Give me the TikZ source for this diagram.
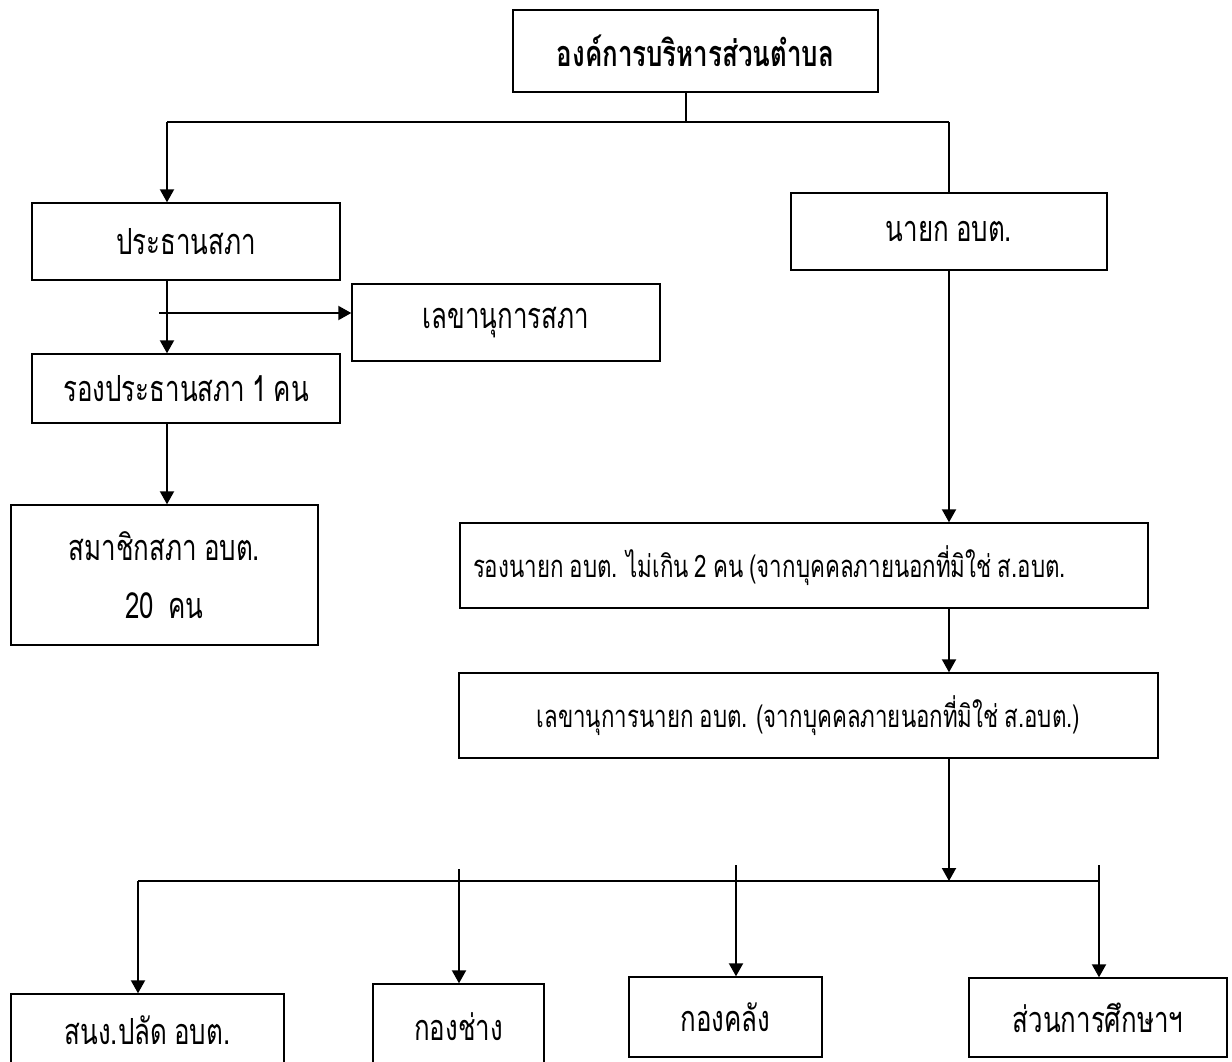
\documentclass[tikz,border=0pt]{standalone}
\usepackage{fontspec}
\newfontfamily\thaifont[Script=Thai,FakeStretch=0.72,WordSpace=0.8]{Loma}
\usetikzlibrary{arrows.meta}

\begin{document}
\begin{tikzpicture}[x=1pt, y=-1pt,
    every node/.style={font=\thaifont\fontsize{36}{42}\selectfont},
    unit/.style={draw, line width=1.4pt, inner sep=0pt},
    longtext/.style={font=\thaifont\fontsize{31}{36}\selectfont},
    bus/.style={line width=1.4pt},
    arr/.style={line width=2pt, -{Triangle[length=13pt,width=14pt]}},
  ]
  \useasboundingbox (0,0) rectangle (1232,1061);
  \clip (0,0) rectangle (1232,1061);

  % council side
  \node[unit, minimum width=365pt, minimum height=82pt,
        font=\thaifont\bfseries\fontsize{36}{42}\selectfont]
                                  (aobt)        at (695.5,51)   {องค์การบริหารส่วนตำบล};
  \node[unit, minimum width=308pt, minimum height=77pt]  (prathan)     at (186,241.5)  {ประธานสภา};
  \node[unit, minimum width=308pt, minimum height=77pt]  (lekhasapha)  at (506,322.5)  {เลขานุการสภา};
  \node[unit, minimum width=308pt, minimum height=69pt]  (rongprathan) at (186,388.5)  {รองประธานสภา 1 คน};
  \node[unit, minimum width=307pt, minimum height=140pt, align=center]
                                  (samachik)    at (164.5,575)  {สมาชิกสภา อบต.\\[16pt]20\ \ คน};

  % executive side
  \node[unit, minimum width=316pt, minimum height=77pt]  (nayok)       at (949,231.5)  {นายก อบต.};
  \node[unit, longtext, minimum width=688pt, minimum height=85pt, inner xsep=13pt]
                                  (rongnayok)   at (804,565.5)
        {\makebox[662pt][l]{รองนายก อบต. ไม่เกิน 2 คน (จากบุคคลภายนอกที่มิใช่ ส.อบต.}};
  \node[unit, longtext, minimum width=699pt, minimum height=85pt]
                                  (lekhanayok)  at (808.5,715.5) {เลขานุการนายก อบต. (จากบุคคลภายนอกที่มิใช่ ส.อบต.)};

  % divisions
  \node[unit, minimum width=273pt, minimum height=72pt]  (sanong)      at (147.5,1030) {สนง.ปลัด อบต.};
  \node[unit, minimum width=171pt, minimum height=86pt]  (kongchang)   at (458.5,1027) {กองช่าง};
  \node[unit, minimum width=193pt, minimum height=80pt]  (kongklang)   at (725.5,1017) {กองคลัง};
  \node[unit, minimum width=258pt, minimum height=79pt]  (suksa)       at (1098,1017.5) {ส่วนการศึกษาฯ};

  \coordinate (stub)  at (686,122);
  \coordinate (busL)  at (167,122);
  \coordinate (busR)  at (949,122);
  \coordinate (side)  at (159,313);
  \coordinate (lowL)  at (138,881);
  \coordinate (lowR)  at (1099,881);

  \draw[bus] (stub |- aobt.south) -- (stub);
  \draw[bus] (busL) -- (busR);
  \draw[arr] (busL) -- (busL |- prathan.north);
  \draw[arr] (busL |- prathan.south) -- (busL |- rongprathan.north);
  \draw[arr] (side) -- (side -| lekhasapha.west);
  \draw[arr] (busL |- rongprathan.south) -- (busL |- samachik.north);

  \draw[line width=2pt] (busR) -- (nayok.north);
  \draw[arr] (nayok.south) -- (nayok.south |- rongnayok.north);
  \draw[arr] (busR |- rongnayok.south) -- (busR |- lekhanayok.north);
  \draw[arr] (busR |- lekhanayok.south) -- (busR |- lowL);

  \draw[bus] (lowL) -- (lowR);
  \draw[arr] (lowL) -- (lowL |- sanong.north);
  \foreach \n/\x/\y in {kongchang/459/869, kongklang/736/865, suksa/1099/865}
    \draw[arr] (\x,\y) coordinate (top) -- (top |- \n.north);
\end{tikzpicture}
\end{document}
